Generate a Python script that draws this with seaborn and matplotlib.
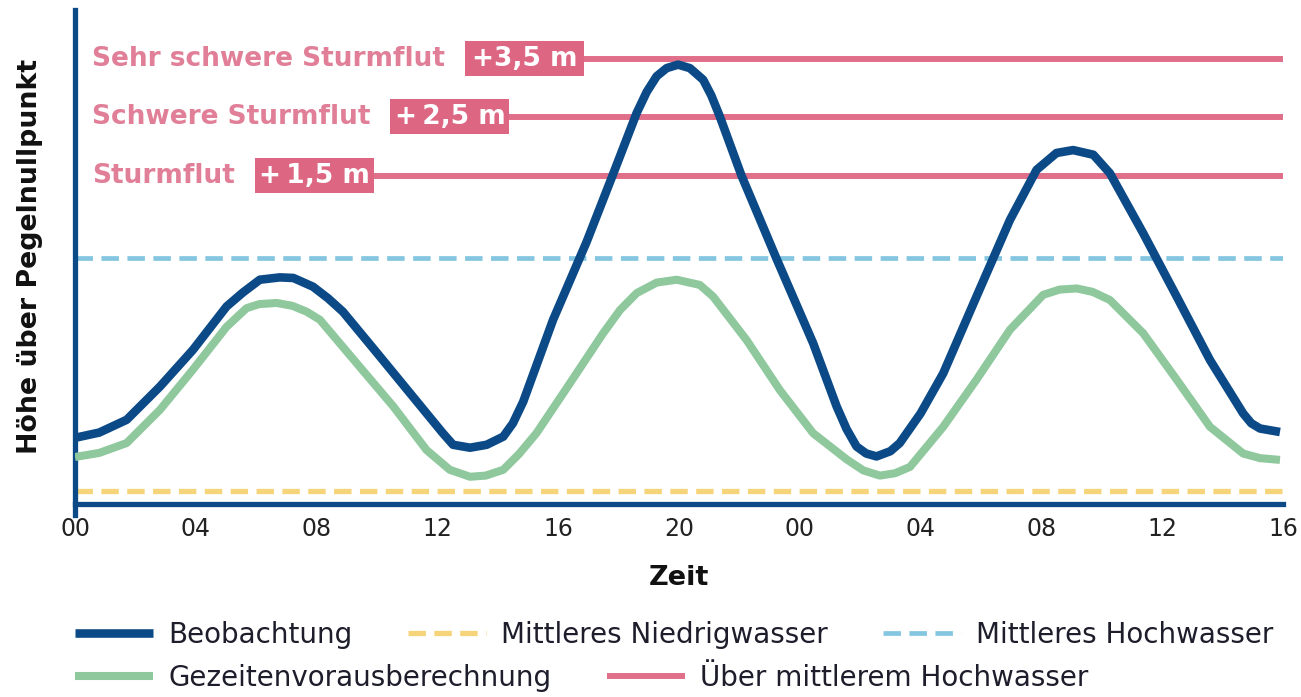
import matplotlib
matplotlib.use("Agg")
import matplotlib.pyplot as plt
import seaborn as sns
from matplotlib.patches import Rectangle

# ---------------- data (hours since start, metres above gauge zero) ----------------
hours_obs = [0.00, 0.80, 1.71, 2.81, 3.90, 5.02, 5.56, 6.12, 6.78, 7.23, 7.88, 8.38,
             8.87, 10.00, 11.09, 12.18, 12.52, 13.08, 13.63, 14.18, 14.50, 14.84,
             15.83, 16.94, 17.82, 18.60, 18.93, 19.26, 19.59, 19.97, 20.36, 20.80,
             21.07, 21.35, 22.07, 23.23, 24.44, 25.22, 25.55, 25.88, 26.20, 26.54,
             27.00, 27.31, 28.00, 28.75, 29.85, 30.96, 31.84, 32.50, 33.05, 33.72,
             34.27, 35.37, 36.48, 37.58, 38.68, 38.95, 39.24, 39.90]
obs_level = [1.13, 1.22, 1.44, 2.01, 2.64, 3.39, 3.63, 3.85, 3.89, 3.88, 3.73, 3.53,
             3.30, 2.59, 1.90, 1.21, 1.01, 0.96, 1.01, 1.15, 1.38, 1.75,
             3.16, 4.50, 5.67, 6.72, 7.08, 7.35, 7.49, 7.55, 7.49, 7.29,
             7.02, 6.66, 5.64, 4.21, 2.76, 1.67, 1.28, 0.98, 0.86, 0.81,
             0.90, 1.04, 1.55, 2.24, 3.56, 4.88, 5.74, 6.03, 6.08, 6.00,
             5.68, 4.65, 3.56, 2.47, 1.55, 1.38, 1.29, 1.23]

hours_pred = [0.00, 0.80, 1.71, 2.81, 3.90, 5.02, 5.68, 6.10, 6.68, 7.20, 7.67, 8.11,
              9.43, 10.54, 11.64, 12.41, 13.08, 13.60, 14.18, 14.70, 15.28, 16.39,
              17.49, 18.05, 18.60, 19.26, 19.92, 20.69, 21.13, 22.24, 23.34, 24.44,
              25.55, 26.10, 26.65, 27.15, 27.65, 28.75, 29.85, 30.96, 32.06, 32.60,
              33.17, 33.70, 34.27, 35.37, 36.48, 37.58, 38.68, 39.24, 39.90]
pred_level = [0.80, 0.87, 1.04, 1.61, 2.30, 3.04, 3.36, 3.43, 3.45, 3.40, 3.30, 3.16,
              2.35, 1.67, 0.92, 0.58, 0.46, 0.48, 0.58, 0.85, 1.21, 2.07,
              2.93, 3.33, 3.62, 3.80, 3.85, 3.76, 3.56, 2.81, 1.95, 1.21,
              0.76, 0.57, 0.48, 0.52, 0.63, 1.32, 2.13, 2.99, 3.59, 3.68,
              3.70, 3.64, 3.50, 2.93, 2.13, 1.32, 0.86, 0.78, 0.75]

mean_low_water = 0.22
mean_high_water = 4.23
storm_levels = [5.64, 6.65, 7.65]
storm_names = ["Sturmflut", "Schwere Sturmflut", "Sehr schwere Sturmflut"]
storm_offsets = ["+\u20091,5 m", "+\u20092,5 m", "+3,5 m"]

tick_hours = [0, 4, 8, 12, 16, 20, 24, 28, 32, 36, 40]
tick_labels = ["00", "04", "08", "12", "16", "20", "00", "04", "08", "12", "16"]
y_ticks = [1, 2, 3, 4, 5, 6, 7, 8]

lbl_obs = "Beobachtung"
lbl_pred = "Gezeitenvorausberechnung"
lbl_mnw = "Mittleres Niedrigwasser"
lbl_mhw = "Mittleres Hochwasser"
lbl_storm = "Über mittlerem Hochwasser"

# ---------------- style ----------------
NAVY = "#0c4a87"
GREEN = "#8ec89c"
PINK_LINE = "#e0708a"
PINK_BOX = "#dd6782"
PINK_TXT = "#e07f97"
LBLUE = "#84c6e0"
YELLOW = "#f6d47a"
TXT = "#1d1d2b"

sns.set_theme(style="white")
plt.rcParams["font.family"] = ["DejaVu Sans"]

W, H = 1301, 697
fig = plt.figure(figsize=(W / 100, H / 100), dpi=100)
ax = fig.add_axes([75 / W, 193.5 / H, 1208 / W, 493.5 / H])
ax.set_xlim(0, 40)
ax.set_ylim(0, 8.49)

# reference levels
ax.axhline(mean_low_water, color=YELLOW, lw=3.8, ls=(0, (3.3, 1.6)), zorder=2, label=lbl_mnw)
ax.axhline(mean_high_water, color=LBLUE, lw=3.4, ls=(0, (3.7, 1.8)), zorder=2, label=lbl_mhw)

# curves
sns.lineplot(x=hours_pred, y=pred_level, ax=ax, color=GREEN, linewidth=5.8,
             label=lbl_pred, zorder=3, solid_joinstyle="round", solid_capstyle="butt")
sns.lineplot(x=hours_obs, y=obs_level, ax=ax, color=NAVY, linewidth=6.2,
             label=lbl_obs, zorder=4, solid_joinstyle="round", solid_capstyle="butt")
if ax.get_legend() is not None:
    ax.get_legend().remove()

# axes styling
for s in ["top", "right"]:
    ax.spines[s].set_visible(False)
for s in ["left", "bottom"]:
    ax.spines[s].set_color(NAVY)
    ax.spines[s].set_linewidth(3.8)
ax.spines["left"].set_bounds(-0.2, 8.49)
ax.set_xticks(tick_hours, tick_labels)
ax.set_yticks(y_ticks)
ax.tick_params(axis="x", direction="inout", length=12, width=1.2, color="#1a2f4f",
               labelsize=17, pad=4, labelcolor="#222222")
ax.tick_params(axis="y", direction="in", length=5, width=1.2, color="#1a2f4f",
               labelleft=False)
ax.grid(False)

ax.set_xlabel("Zeit", fontsize=19.5, fontweight="bold", color="#111111")
ax.xaxis.set_label_coords(0.5, -0.124)
ax.set_ylabel("Höhe über Pegelnullpunkt", fontsize=19.3, fontweight="bold", color="#111111")
ax.yaxis.set_label_coords(-0.0265, 0.5)

# storm surge thresholds with labels
fig.canvas.draw()
rend = fig.canvas.get_renderer()
inv = ax.transData.inverted()
box_w, box_h, gap = 119, 35, 20
for i, (lvl, name, off) in enumerate(zip(storm_levels, storm_names, storm_offsets)):
    t = ax.text(0.56, lvl, name, color=PINK_TXT, fontsize=19, fontweight="bold",
                va="center", ha="left", zorder=6)
    e = t.get_window_extent(rend)
    ypix = ax.transData.transform((0, lvl))[1]
    left = e.x1 + gap
    x0, y0 = inv.transform((left, ypix - box_h / 2))
    x1, y1 = inv.transform((left + box_w, ypix + box_h / 2))
    ax.add_patch(Rectangle((x0, y0), x1 - x0, y1 - y0, facecolor=PINK_BOX,
                           edgecolor="none", zorder=6.5))
    ax.text((x0 + x1) / 2, lvl, off, color="white", fontsize=19, fontweight="bold",
            va="center", ha="center", zorder=7)
    ax.plot([x1, 40], [lvl, lvl], color=PINK_LINE, lw=4.3, solid_capstyle="butt",
            zorder=2.5, label=lbl_storm if i == 0 else "_nolegend_")

# legends (two flowing rows)
handles, labels = ax.get_legend_handles_labels()
hmap = dict(zip(labels, handles))
common = dict(frameon=False, fontsize=20, handlelength=2.8, handletextpad=0.55,
              columnspacing=2.0, borderpad=0, borderaxespad=0, labelcolor=TXT,
              loc="center left")
row1 = [lbl_obs, lbl_mnw, lbl_mhw]
row2 = [lbl_pred, lbl_storm]
fig.legend([hmap[k] for k in row1], row1, ncol=3,
           bbox_to_anchor=(75 / W, 1 - 635 / H), **common)
fig.legend([hmap[k] for k in row2], row2, ncol=2,
           bbox_to_anchor=(75 / W, 1 - 678 / H), **common)

fig.savefig("out.png", dpi=100)
